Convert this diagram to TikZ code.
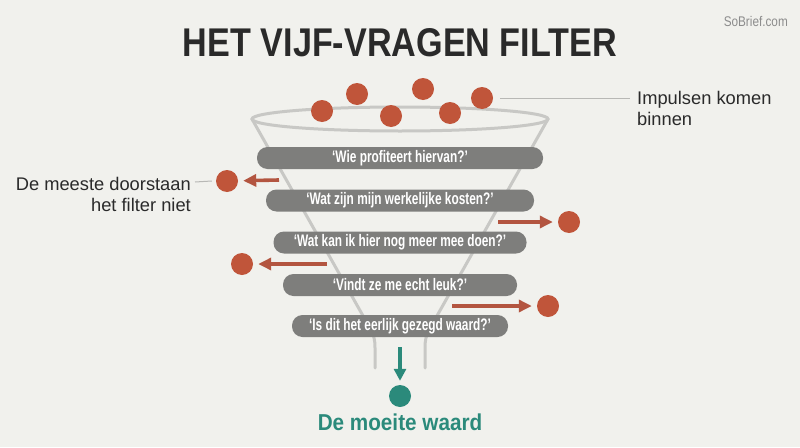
\documentclass[tikz,border=0pt]{standalone}
\usepackage{fontspec}
\setmainfont{Liberation Sans}
\newfontfamily\condfont[FakeStretch=0.84]{Liberation Sans}
\newfontfamily\pillfont[FakeStretch=0.71]{Liberation Sans}
\newfontfamily\greenfont[FakeStretch=0.9]{Liberation Sans}
\usetikzlibrary{arrows.meta}
\definecolor{bgc}{HTML}{F1F1ED}
\definecolor{pillc}{HTML}{7E7E7C}
\definecolor{ballc}{HTML}{C0553A}
\definecolor{arrc}{HTML}{B35540}
\definecolor{tealc}{HTML}{2B8A7B}
\definecolor{wallc}{HTML}{C8C8C5}
\definecolor{inkc}{HTML}{2A2A2A}
\definecolor{leadc}{HTML}{B8B8B5}
\tikzset{
  pill/.style={fill=pillc, rounded corners=10.5pt, minimum height=22pt, inner sep=0pt,
    text=white, font=\pillfont\bfseries\fontsize{16.7}{19}\selectfont},
  ball/.style={circle, fill=ballc, minimum size=22pt, inner sep=0pt},
  tball/.style={circle, fill=tealc, minimum size=22pt, inner sep=0pt},
  wall/.style={draw=wallc, line width=3pt},
  outarrow/.style={draw=arrc, line width=3.6pt, shorten >=5pt, -{Triangle[length=13pt,width=12pt]}},
  lead/.style={draw=leadc, line width=1pt},
  sidelabel/.style={text=inkc, font=\fontsize{18.3}{21}\selectfont, inner sep=0pt}
}
\begin{document}
\begin{tikzpicture}[x=1pt,y=-1pt]
\fill[bgc] (0,0) rectangle (800,447);
\useasboundingbox (0,0) rectangle (800,447);

% title and watermark
\node[text=inkc, inner sep=0pt] (title) at (400,43) {\resizebox{434pt}{28pt}{\bfseries HET VIJF-VRAGEN FILTER}};
\node[text=gray!90, font=\condfont\fontsize{14}{16}\selectfont, inner sep=0pt, anchor=east] (brand) at (788,21) {SoBrief.com};

% funnel
\draw[wall] (400,119) ellipse [x radius=148, y radius=12];
\draw[wall, line cap=round] (252,119) -- (371,330) .. controls (374,336) and (375,340) .. (375,348) -- (375,368);
\draw[wall, line cap=round] (548,119) -- (429,330) .. controls (426,336) and (425,340) .. (425,348) -- (425,368);

% incoming impulses
\node[ball] (b1) at (322,111) {};
\node[ball] (b2) at (357,94) {};
\node[ball] (b3) at (391,116) {};
\node[ball] (b4) at (423,89) {};
\node[ball] (b5) at (450,113) {};
\node[ball] (b6) at (482,98) {};

% questions
\node[pill, minimum width=286pt] (q1) at (400,158) {‘Wie profiteert hiervan?’};
\node[pill, minimum width=268pt] (q2) at (400,200.5) {‘Wat zijn mijn werkelijke kosten?’};
\node[pill, minimum width=253pt] (q3) at (400,242.5) {‘Wat kan ik hier nog meer mee doen?’};
\node[pill, minimum width=234pt] (q4) at (400,285) {‘Vindt ze me echt leuk?’};
\node[pill, minimum width=216pt] (q5) at (400,326) {‘Is dit het eerlijk gezegd waard?’};

% rejected impulses
\coordinate (a1s) at (279,180);
\node[ball] (r1) at (227,181) {};
\draw[outarrow] (a1s) -- (r1);
\coordinate (a2s) at (498,222);
\node[ball] (r2) at (569,222) {};
\draw[outarrow] (a2s) -- (r2);
\coordinate (a3s) at (327,264);
\node[ball] (r3) at (242,264) {};
\draw[outarrow] (a3s) -- (r3);
\coordinate (a4s) at (452,306);
\node[ball] (r4) at (548,306) {};
\draw[outarrow] (a4s) -- (r4);

% labels
\node[sidelabel, anchor=west, align=left] (lin) at (637,108) {Impulsen komen\\binnen};
\coordinate (linl) at (630,98);
\draw[lead] (b6.east) ++(7,0) -- (linl);
\node[sidelabel, anchor=east, align=right] (lout) at (191,194) {De meeste doorstaan\\het filter niet};
\coordinate (loutr) at (195,182);
\draw[lead] (loutr) -- ([xshift=-4pt]r1.west);

% result
\coordinate (gs) at (400,347);
\node[tball] (good) at (400,396) {};
\draw[draw=tealc, line width=3.6pt, shorten >=4pt, -{Triangle[length=12pt,width=12pt]}] (gs) -- (good);
\node[text=tealc, inner sep=0pt, font=\greenfont\bfseries\fontsize{23}{26}\selectfont] (goodlbl) at (400,422) {De moeite waard};
\end{tikzpicture}
\end{document}
